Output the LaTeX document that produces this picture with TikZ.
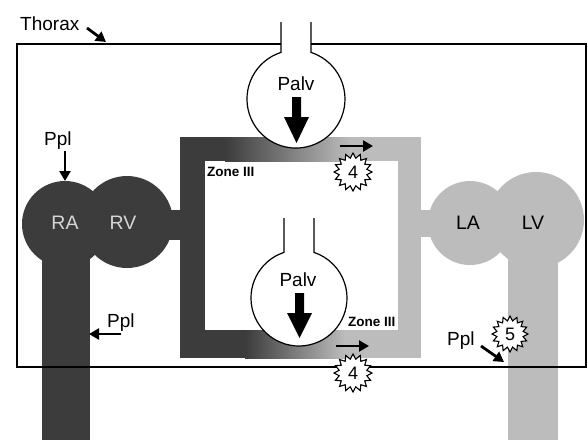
\documentclass[tikz,border=0pt]{standalone}
\usepackage{fontspec}
\setmainfont{Liberation Sans}
\usetikzlibrary{shapes.geometric,arrows.meta}
\definecolor{darkv}{HTML}{3C3C3C}
\definecolor{lightv}{HTML}{BCBCBC}
\definecolor{ratext}{HTML}{D6D6D6}
\tikzset{
  lbl/.style={font=\fontsize{19}{20}\selectfont, inner sep=0pt, anchor=base west},
  zone/.style={font=\bfseries\fontsize{13.5}{14}\selectfont, inner sep=0pt, anchor=base west},
  chamber/.style={font=\fontsize{19.5}{20}\selectfont, inner sep=0pt},
  burst/.style={shape=star, star points=16, star point ratio=1.35, minimum size=38pt,
     inner sep=0pt, draw=black, line width=1.1pt, fill=white, font=\fontsize{18}{18}\selectfont},
  parrow/.style={line width=2.8pt, -{Triangle[width=11pt,length=10pt]}},
  alv/.style={draw=black, line width=1.2pt, fill=white},
  thor/.style={line width=2.6pt, line join=miter}
}
\begin{document}
\begin{tikzpicture}[x=1pt,y=-1pt]
\useasboundingbox (0,0) rectangle (588,440);
\fill[white] (0,0) rectangle (588,440);
% ---- right (venous) side, dark
\fill[darkv] (42,224) rectangle (90,440);
\fill[darkv] (65,224) circle[radius=43];
\fill[darkv] (127,222) circle[radius=46];
\fill[darkv] (160,210) rectangle (182,240);
\fill[darkv] (180,137) rectangle (205,358);
% top band with gradient
\fill[darkv] (180,137) rectangle (226,161);
\shade[left color=darkv, right color=lightv] (225,137) rectangle (350,161);
\fill[lightv] (349,137) rectangle (421,161);
% bottom band with gradient
\fill[darkv] (180,330) rectangle (246,358);
\shade[left color=darkv, right color=lightv] (245,330) rectangle (345,358);
\fill[lightv] (344,330) rectangle (421,358);
% ---- left (arterial) side, light
\fill[lightv] (398,137) rectangle (421,358);
\fill[lightv] (415,210) rectangle (440,237);
\fill[lightv] (470,223) circle[radius=42];
\fill[lightv] (536,220) circle[radius=48];
\fill[lightv] (508,240) rectangle (558,440);
% ---- alveoli
\fill[white] (296,99) circle[radius=49];
\draw[alv, fill=none] (281,22) -- (281,52.4) arc[start angle=252.2, end angle=-72.2, radius=49] -- (311,22);
\fill[white] (299,298) circle[radius=48];
\draw[alv, fill=none] (284,218) -- (284,252.4) arc[start angle=251.8, end angle=-71.8, radius=48] -- (314,218);
% big arrows
\fill[black] (292,97) -- (301,97) -- (301,117) -- (309,117) -- (296.5,143) -- (284,117) -- (292,117) -- cycle;
\fill[black] (295,293) -- (304,293) -- (304,313) -- (312,313) -- (299.5,338) -- (287,313) -- (295,313) -- cycle;
\node[lbl, anchor=base] (palvtop) at (296,90) {Palv};
\node[lbl, anchor=base] (palvbot) at (298,286) {Palv};
% ---- thorax
\draw[thor] (281,44) -- (17,44) -- (17,367) -- (586,367) -- (586,44) -- (311,44);
% ---- chamber labels
\node[chamber, text=ratext] (ra) at (65,223) {RA};
\node[chamber, text=ratext] (rv) at (123,223) {RV};
\node[chamber] (la) at (468,223) {LA};
\node[chamber] (lv) at (533,223) {LV};
% ---- zone labels
\node[zone] (zone1) at (207,176) {Zone III};
\node[zone] (zone2) at (348,326) {Zone III};
% ---- pressure labels and arrows
\node[lbl] (thorax) at (20,30) {Thorax};
\coordinate (tha) at (87,28);
\coordinate (thb) at (106,42);
\draw[parrow] (tha) -- (thb);
\node[lbl] (ppl1) at (44,145) {Ppl};
\coordinate (p1a) at (65,151);
\coordinate (p1b) at (65,181);
\draw[parrow] (p1a) -- (p1b);
\node[lbl] (ppl2) at (107,327) {Ppl};
\coordinate (p2a) at (121,334);
\coordinate (p2b) at (89,334);
\draw[parrow] (p2a) -- (p2b);
\node[lbl] (ppl3) at (447,345) {Ppl};
\coordinate (p3a) at (481,346);
\coordinate (p3b) at (504,362);
\draw[parrow] (p3a) -- (p3b);
% flow arrows
\coordinate (f1a) at (340,146);
\coordinate (f1b) at (373,146);
\draw[parrow, line width=2.2pt] (f1a) -- (f1b);
\coordinate (f2a) at (336,346);
\coordinate (f2b) at (369,346);
\draw[parrow, line width=2.2pt] (f2a) -- (f2b);
% ---- bursts
\node[burst] (b4top) at (353,172) {4};
\node[burst] (b4bot) at (353,373) {4};
\node[burst, minimum size=36pt] (b5) at (510,334) {5};
\end{tikzpicture}
\end{document}
